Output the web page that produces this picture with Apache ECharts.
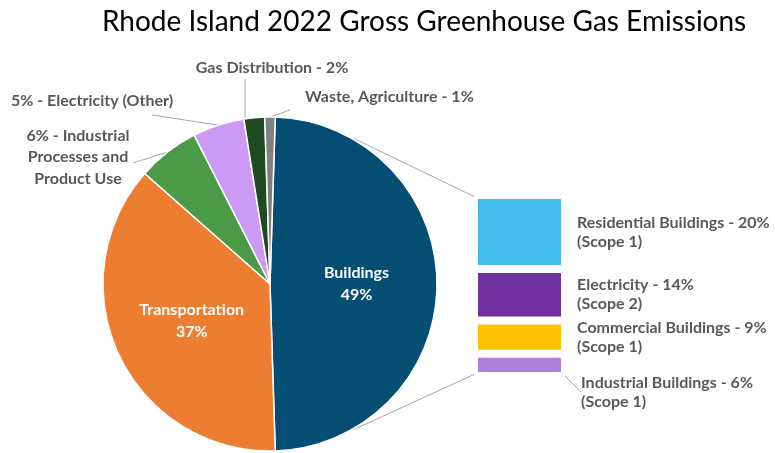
<!DOCTYPE html>
<html>
<head>
<meta charset="utf-8">
<script src="https://cdn.jsdelivr.net/npm/echarts@6/dist/echarts.min.js"></script>
<style>
html,body{margin:0;padding:0;background:#fff;}
#chart{width:775px;height:453px;}
</style>
</head>
<body>
<div id="chart"></div>
<script>
// ---- data ----
const pieCategories = ['Buildings', 'Transportation', 'Industrial Processes and Product Use', 'Electricity (Other)', 'Gas Distribution', 'Waste, Agriculture'];
const pieValues = [49, 37, 6, 5, 2, 1];
const pieLabels = ['Buildings\n49%', 'Transportation\n37%', '6% - Industrial\nProcesses and\nProduct Use', '5% - Electricity (Other)', 'Gas Distribution - 2%', 'Waste, Agriculture - 1%'];
const barCategories = ['Residential Buildings', 'Electricity', 'Commercial Buildings', 'Industrial Buildings'];
const barScopes = ['(Scope 1)', '(Scope 2)', '(Scope 1)', '(Scope 1)'];
const barValues = [20, 14, 9, 6];

// ---- styles ----
const pieColors = ['#054E73', '#ED7D31', '#4A9A48', '#CC99F5', '#1F4A22', '#808080'];
const barColors = ['#45BBEC', '#7030A0', '#FFC000', '#B07EDC'];
const FONT = 'Lato, "Open Sans", sans-serif';
const TXT = '#595959';
const LINE = '#A6A6A6';
const FS = 16;

const CX = 270, CY = 284, R = 167;
const G = { left: 474, top: 195, width: 91, height: 181 };

const total = pieValues.reduce((a, b) => a + b, 0);
// first slice (Buildings) centred on the 3 o'clock direction
const startAngle = (pieValues[0] / total) * 180;

const outsidePos = {
  2: { x: 78, y: 157, align: 'center', end: [133, 163] },
  3: { x: 92, y: 101, align: 'center', end: [152, 115] },
  4: { x: 272, y: 68, align: 'center', end: [245, 79] },
  5: { x: 305, y: 97, align: 'left', end: [290, 110] }
};

const chart = echarts.init(document.getElementById('chart'), null, { renderer: 'canvas' });

function pt(angDegCW, r) {
  const a = angDegCW * Math.PI / 180;
  return [CX + r * Math.sin(a), CY - r * Math.cos(a)];
}
const pTop = pt(30, R + 1), pBot = pt(150, R + 1);

const barSeries = barValues.map((v, i) => ({
  type: 'bar',
  name: barCategories[i],
  stack: 'b',
  xAxisIndex: 0, yAxisIndex: 0,
  barWidth: '100%',
  data: [v],
  itemStyle: { color: barColors[i], borderColor: '#fff', borderWidth: 4 },
  label: {
    show: true, position: 'right', distance: 12,
    fontFamily: FONT, fontSize: FS, fontWeight: 'bold', color: TXT, lineHeight: 19, align: 'left',
    formatter: () => barCategories[i] + ' - ' + v + '%\n' + barScopes[i]
  },
  labelLine: i === 3 ? { show: true, lineStyle: { color: LINE, width: 1 } } : { show: false },
  labelLayout: i === 3 ? function (p) {
    const r = p.rect, lr = p.labelRect;
    const dy = 27, dx = 4;
    const ly = lr.y + dy + lr.height / 2 - 3;
    const xx = r.x + r.width + 2;
    return { dx: dx, dy: dy, labelLinePoints: [[xx, r.y + r.height * 0.6], [xx, ly], [xx + 7, ly]] };
  } : null
}));

chart.setOption({
  animation: false,
  title: {
    text: 'Rhode Island 2022 Gross Greenhouse Gas Emissions',
    left: 97, top: 3,
    textStyle: { fontFamily: FONT, fontSize: 28, fontWeight: 'normal', color: '#000' }
  },
  grid: { left: G.left, top: G.top, width: G.width, height: G.height, containLabel: false },
  xAxis: { type: 'category', data: ['Buildings'], show: false },
  yAxis: { type: 'value', min: 0, max: 49, inverse: true, show: false },
  graphic: [
    { type: 'line', z: 0, shape: { x1: pTop[0], y1: pTop[1], x2: G.left + 1, y2: G.top + 2 }, style: { stroke: LINE, lineWidth: 1 } },
    { type: 'line', z: 0, shape: { x1: pBot[0], y1: pBot[1], x2: G.left + 1, y2: G.top + G.height - 2 }, style: { stroke: LINE, lineWidth: 1 } }
  ],
  series: [
    {
      type: 'pie',
      center: [CX, CY],
      radius: R,
      startAngle: startAngle,
      clockwise: true,
      avoidLabelOverlap: false,
      itemStyle: { borderColor: '#fff', borderWidth: 1.5 },
      label: {
        show: true, position: 'outside',
        fontFamily: FONT, fontSize: FS, fontWeight: 'bold', color: TXT, lineHeight: 21.5,
        formatter: p => pieLabels[p.dataIndex]
      },
      labelLine: { show: true, lineStyle: { color: LINE, width: 1 }, length: 10, length2: 10 },
      labelLayout: function (p) {
        const o = outsidePos[p.dataIndex];
        if (!o) return {};
        const s = p.labelLinePoints ? p.labelLinePoints[0] : [o.end[0], o.end[1]];
        let pts;
        if (p.dataIndex === 4) {
          pts = [[o.end[0], s[1]], [o.end[0], (s[1] + o.end[1]) / 2], o.end];
        } else {
          pts = [s, [(s[0] + o.end[0]) / 2, (s[1] + o.end[1]) / 2], o.end];
        }
        return { x: o.x, y: o.y, align: o.align, verticalAlign: 'middle', labelLinePoints: pts };
      },
      data: pieValues.map((v, i) => {
        const d = { name: pieCategories[i], value: v, itemStyle: { color: pieColors[i] } };
        if (i < 2) {
          d.label = { position: 'inside', color: '#fff', lineHeight: 22 };
          d.labelLine = { show: false };
        }
        return d;
      })
    }
  ].concat(barSeries)
});
</script>
</body>
</html>
